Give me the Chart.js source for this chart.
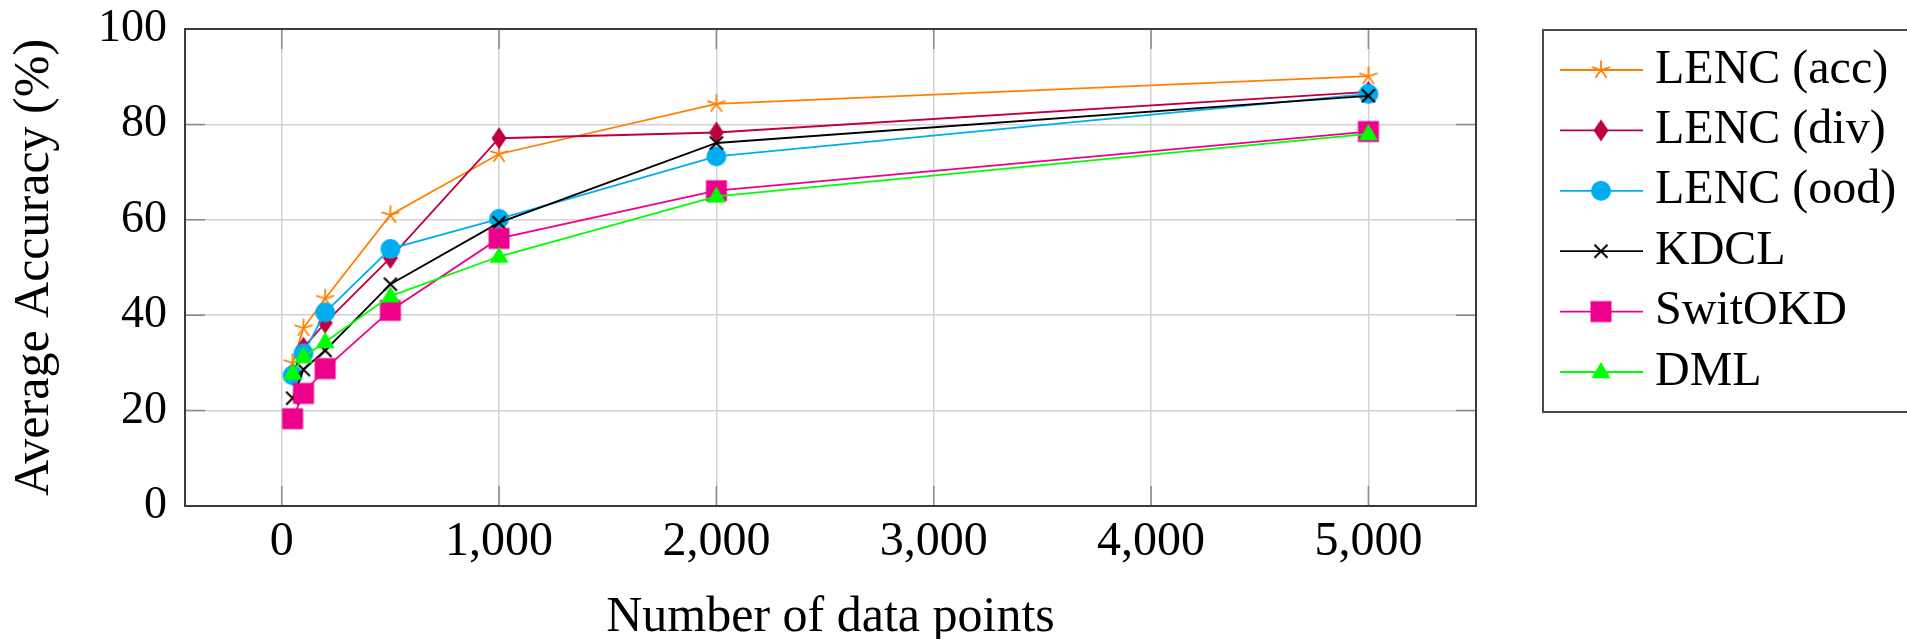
<!DOCTYPE html>
<html>
<head>
<meta charset="utf-8">
<title>Average Accuracy vs Number of data points</title>
<script src="https://cdn.jsdelivr.net/npm/chart.js@4.4.1/dist/chart.umd.min.js"></script>
<style>
  html, body { margin: 0; padding: 0; background: #fff; }
  canvas { display: block; }
</style>
</head>
<body>
<canvas id="accChart" width="1907" height="639"></canvas>
<script>
// Data
const dataPoints = [50, 100, 200, 500, 1000, 2000, 5000];
const lencAcc  = [30.0, 37.3, 43.5, 61.0, 73.8, 84.3, 90.1];
const lencDiv  = [27.5, 33.2, 38.4, 52.0, 77.1, 78.3, 86.8];
const lencOod  = [27.4, 32.0, 40.6, 53.9, 60.2, 73.3, 86.4];
const kdcl     = [22.6, 28.6, 32.6, 46.5, 59.4, 76.1, 86.0];
const switOKD  = [18.3, 23.6, 28.8, 41.0, 56.1, 66.1, 78.5];
const dml      = [27.8, 31.3, 34.4, 44.0, 52.3, 64.9, 78.0];

const xTickValues = [0, 1000, 2000, 3000, 4000, 5000];
const yTickValues = [0, 20, 40, 60, 80, 100];

const serif = "'Liberation Serif', 'Times New Roman', serif";

// pgfplots-like marks, drawn once into small canvases
function makeMarker(kind, color) {
  const c = document.createElement("canvas");
  c.width = 28;
  c.height = 28;
  const g = c.getContext("2d");
  g.translate(14, 14);
  g.fillStyle = color;
  g.strokeStyle = color;
  g.lineWidth = 1.8;
  g.beginPath();
  if (kind === "star") {
    for (let i = 0; i < 5; i++) {
      const a = -Math.PI / 2 + i * 2 * Math.PI / 5;
      g.moveTo(0, 0);
      g.lineTo(Math.cos(a) * 9.5, Math.sin(a) * 9.5);
    }
    g.stroke();
  } else if (kind === "diamond") {
    g.moveTo(0, -11); g.lineTo(7.5, 0); g.lineTo(0, 11); g.lineTo(-7.5, 0);
    g.closePath();
    g.fill();
  } else if (kind === "circle") {
    g.arc(0, 0, 10, 0, Math.PI * 2);
    g.fill();
  } else if (kind === "x") {
    g.lineWidth = 2;
    g.moveTo(-6.5, -6.5); g.lineTo(6.5, 6.5);
    g.moveTo(6.5, -6.5); g.lineTo(-6.5, 6.5);
    g.stroke();
  } else if (kind === "square") {
    g.rect(-10.5, -10.5, 21, 21);
    g.fill();
  } else if (kind === "triangle") {
    g.moveTo(0, -10); g.lineTo(9.5, 6.2); g.lineTo(-9.5, 6.2);
    g.closePath();
    g.fill();
  }
  return c;
}

function series(label, values, color, mark, order) {
  return {
    label: label,
    data: dataPoints.map((x, i) => ({ x: x, y: values[i] })),
    borderColor: color,
    backgroundColor: color,
    borderWidth: 1.8,
    pointStyle: makeMarker(mark, color),
    pointRadius: 10,
    tension: 0,
    order: order
  };
}

// Gray inward ticks and the axis box, like pgfplots
const frameBox = {
  id: "frameBox",
  beforeDatasetsDraw(chart) {
    const { ctx, chartArea: a, scales } = chart;
    ctx.save();
    ctx.strokeStyle = "#8a8a8a";
    ctx.lineWidth = 1.5;
    ctx.beginPath();
    xTickValues.forEach(v => {
      const px = scales.x.getPixelForValue(v);
      ctx.moveTo(px, a.bottom); ctx.lineTo(px, a.bottom - 20);
      ctx.moveTo(px, a.top); ctx.lineTo(px, a.top + 20);
    });
    yTickValues.forEach(v => {
      const py = scales.y.getPixelForValue(v);
      ctx.moveTo(a.left, py); ctx.lineTo(a.left + 20, py);
      ctx.moveTo(a.right, py); ctx.lineTo(a.right - 20, py);
    });
    ctx.stroke();
    ctx.strokeStyle = "#3a3a3a";
    ctx.lineWidth = 2;
    ctx.strokeRect(a.left, a.top, a.right - a.left, a.bottom - a.top);
    ctx.restore();
  }
};

// Legend box on the right
const sideLegend = {
  id: "sideLegend",
  afterDraw(chart) {
    const ctx = chart.ctx;
    const boxLeft = 1543, boxTop = 30, boxBottom = 412;
    ctx.save();
    ctx.strokeStyle = "#4a4a4a";
    ctx.lineWidth = 2;
    ctx.strokeRect(boxLeft, boxTop, 1907 - boxLeft + 10, boxBottom - boxTop);
    chart.data.datasets.forEach((ds, i) => {
      const y = 70 + i * 60.4;
      ctx.strokeStyle = ds.borderColor;
      ctx.lineWidth = ds.borderWidth;
      ctx.beginPath();
      ctx.moveTo(1560, y);
      ctx.lineTo(1643, y);
      ctx.stroke();
      const m = ds.pointStyle;
      ctx.drawImage(m, 1601 - m.width / 2, y - m.height / 2);
      ctx.fillStyle = "#000";
      ctx.font = "48px " + serif;
      ctx.textAlign = "left";
      ctx.textBaseline = "middle";
      ctx.fillText(ds.label, 1655, y);
    });
    ctx.restore();
  }
};

new Chart(document.getElementById("accChart"), {
  type: "line",
  data: {
    datasets: [
      series("LENC (acc)", lencAcc, "#ff8000", "star", 5),
      series("LENC (div)", lencDiv, "#bf0040", "diamond", 4),
      series("LENC (ood)", lencOod, "#00aeef", "circle", 3),
      series("KDCL", kdcl, "#000000", "x", 2),
      series("SwitOKD", switOKD, "#ec008c", "square", 1),
      series("DML", dml, "#00ff00", "triangle", 0)
    ]
  },
  options: {
    responsive: false,
    animation: false,
    layout: { padding: { top: 29, right: 431, left: 0, bottom: 0 } },
    plugins: {
      legend: { display: false },
      tooltip: { enabled: false }
    },
    scales: {
      x: {
        type: "linear",
        min: -445,
        max: 5495,
        afterBuildTicks: s => { s.ticks = xTickValues.map(v => ({ value: v })); },
        afterFit: s => { s.height = 133; s.paddingLeft = 0; s.paddingRight = 0; },
        ticks: {
          autoSkip: false,
          maxRotation: 0,
          padding: 8,
          color: "#000",
          font: { family: serif, size: 48 },
          callback: v => v.toLocaleString("en-US")
        },
        grid: { color: "#d2d2d2", lineWidth: 1.5, drawTicks: false },
        border: { display: false },
        title: {
          display: true,
          text: "Number of data points",
          color: "#000",
          font: { family: serif, size: 50, lineHeight: 1 },
          padding: { top: 0, bottom: -4 }
        }
      },
      y: {
        min: 0,
        max: 100,
        afterBuildTicks: s => { s.ticks = yTickValues.map(v => ({ value: v })); },
        afterFit: s => { s.width = 185; s.paddingTop = 0; s.paddingBottom = 0; },
        ticks: {
          padding: 18,
          color: "#000",
          font: { family: serif, size: 46 }
        },
        grid: { color: "#d2d2d2", lineWidth: 1.5, drawTicks: false },
        border: { display: false },
        title: {
          display: true,
          text: "Average Accuracy (%)",
          color: "#000",
          font: { family: serif, size: 50, lineHeight: 1 },
          padding: { top: 10, bottom: 0 }
        }
      }
    }
  },
  plugins: [frameBox, sideLegend]
});
</script>
</body>
</html>
